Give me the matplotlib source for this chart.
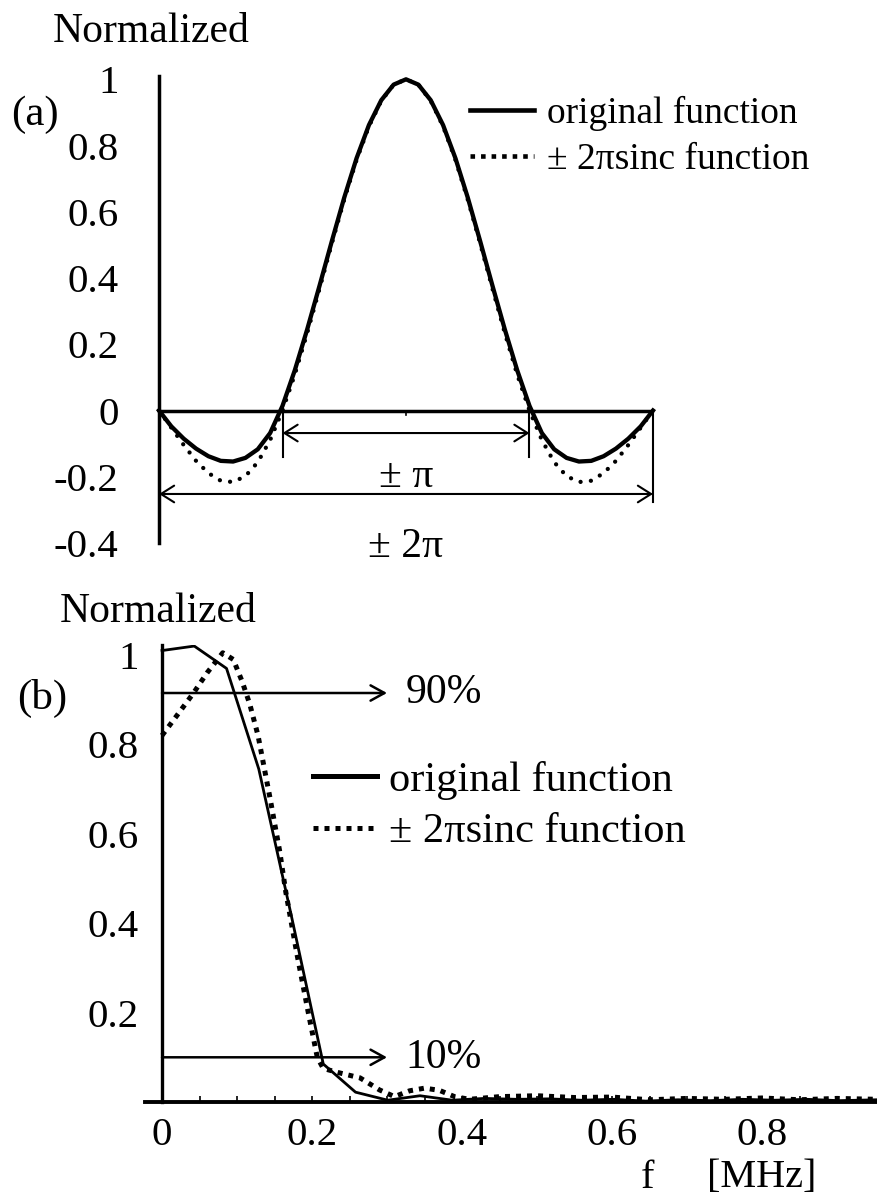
import matplotlib
matplotlib.use('Agg')
import matplotlib.pyplot as plt
from matplotlib.lines import Line2D

plt.rcParams['font.family'] = ['Liberation Serif', 'DejaVu Serif']

# ---- panel (a): phase axis in units of pi ----
xa = [-2.0, -1.9, -1.8, -1.7, -1.6, -1.5, -1.4, -1.3, -1.2, -1.1, -1.0,
      -0.9, -0.8, -0.7, -0.6, -0.5, -0.4, -0.3, -0.2, -0.1, 0.0,
      0.1, 0.2, 0.3, 0.4, 0.5, 0.6, 0.7, 0.8, 0.9, 1.0,
      1.1, 1.2, 1.3, 1.4, 1.5, 1.6, 1.7, 1.8, 1.9, 2.0]
orig_a = [0.0, -0.048, -0.085, -0.115, -0.138, -0.152, -0.154, -0.143, -0.117, -0.068, 0.014,
          0.122, 0.245, 0.377, 0.512, 0.643, 0.762, 0.862, 0.937, 0.984, 1.0,
          0.984, 0.937, 0.862, 0.762, 0.643, 0.512, 0.377, 0.245, 0.122, 0.014,
          -0.068, -0.117, -0.143, -0.154, -0.152, -0.138, -0.115, -0.085, -0.048, 0.0]
sinc_a = [0.0, -0.052, -0.104, -0.152, -0.189, -0.212, -0.216, -0.198, -0.156, -0.089, 0.0,
          0.109, 0.234, 0.368, 0.505, 0.637, 0.757, 0.858, 0.935, 0.984, 1.0,
          0.984, 0.935, 0.858, 0.757, 0.637, 0.505, 0.368, 0.234, 0.109, 0.0,
          -0.089, -0.156, -0.198, -0.216, -0.212, -0.189, -0.152, -0.104, -0.052, 0.0]
yticks_a = [-0.4, -0.2, 0.0, 0.2, 0.4, 0.6, 0.8, 1.0]
ylabels_a = ['-0.4', '-0.2', '0', '0.2', '0.4', '0.6', '0.8', '1']

# ---- panel (b): spectrum, f in MHz ----
f_orig = [0.0, 0.043, 0.086, 0.129, 0.172, 0.215, 0.258, 0.301, 0.344, 0.387, 0.43,
          0.473, 0.516, 0.559, 0.602, 0.645, 0.688, 0.731, 0.774, 0.817, 0.86, 0.903, 0.953]
orig_b = [1.01, 1.02, 0.97, 0.745, 0.42, 0.085, 0.022, 0.004, 0.014, 0.004, 0.008,
          0.006, 0.007, 0.004, 0.006, 0.002, 0.005, 0.003, 0.006, 0.004, 0.006, 0.003, 0.005]
f_sinc = [0.0, 0.02, 0.042, 0.06, 0.081, 0.095, 0.107, 0.117, 0.128, 0.144, 0.157, 0.165,
          0.18, 0.195, 0.207, 0.215, 0.237, 0.264, 0.29, 0.31, 0.33, 0.35, 0.37, 0.39,
          0.41, 0.45, 0.5, 0.55, 0.6, 0.65, 0.7, 0.75, 0.8, 0.85, 0.9, 0.953]
sinc_b = [0.82, 0.865, 0.915, 0.96, 1.005, 0.99, 0.94, 0.89, 0.82, 0.68, 0.56, 0.47,
          0.33, 0.2, 0.1, 0.075, 0.065, 0.054, 0.027, 0.012, 0.025, 0.031, 0.026, 0.012,
          0.006, 0.012, 0.014, 0.01, 0.011, 0.005, 0.008, 0.006, 0.009, 0.005, 0.008, 0.006]
xticks_b = [0.0, 0.2, 0.4, 0.6, 0.8]
xlabels_b = ['0', '0.2', '0.4', '0.6', '0.8']
yticks_b = [0.2, 0.4, 0.6, 0.8, 1.0]
ylabels_b = ['0.2', '0.4', '0.6', '0.8', '1']
level_90 = 0.915
level_10 = 0.1

W, H = 877, 1202
fig = plt.figure(figsize=(W / 100, H / 100), dpi=100)


def fx(x):
    return x / W


def fy(y):
    return 1 - y / H


# ---------------- (a) ----------------
ax1 = fig.add_axes([fx(159), fy(543), fx(653) - fx(159), fy(76) - fy(543)])
ax1.set_xlim(-2, 2)
ax1.set_ylim(-0.4, 1.01)
for s in ['top', 'right', 'bottom']:
    ax1.spines[s].set_visible(False)
ax1.spines['left'].set_linewidth(2.5)
ax1.set_xticks([])
ax1.set_yticks(yticks_a)
ax1.set_yticklabels(ylabels_a)
ax1.tick_params(axis='y', length=0, pad=29, labelsize=29.5)

ax1.plot([-2, 2], [0, 0], color='black', lw=2.5, solid_capstyle='butt', clip_on=False)
ax1.plot([0, 0], [0, -0.015], color='black', lw=1.2)
ax1.plot(xa, sinc_a, color='black', lw=3.1, linestyle=(0, (0.01, 2.4)),
         dash_capstyle='round', clip_on=False)
ax1.plot(xa, orig_a, color='black', lw=3.1, clip_on=False)

# pi markers and double arrows
for xm in (-1, 1):
    ax1.plot([xm, xm], [0, -0.14], color='black', lw=1.5)
ax1.plot([2, 2], [0, -0.276], color='black', lw=1.5, clip_on=False)
arrow = dict(arrowstyle='<->,head_length=0.95,head_width=0.6', lw=1.5,
             color='black', shrinkA=0, shrinkB=0, mutation_scale=10)
ax1.annotate('', xy=(1, -0.068), xytext=(-1, -0.068), arrowprops=arrow)
ax1.annotate('', xy=(2, -0.252), xytext=(-2, -0.252), arrowprops=arrow,
             annotation_clip=False)
ax1.text(0, -0.2, '± π', ha='center', va='center', fontsize=30)
ax1.text(0, -0.41, '± 2π', ha='center', va='center', fontsize=30)

h_orig_a = Line2D([], [], color='black', lw=3.3)
h_sinc_a = Line2D([], [], color='black', lw=3.3, linestyle=(0, (1, 1.3)),
                  dash_capstyle='butt')
ax1.legend([h_orig_a, h_sinc_a], ['original function', '± 2πsinc function'],
           loc='upper left', bbox_to_anchor=(fx(470), fy(96)),
           bbox_transform=fig.transFigure, frameon=False, fontsize=27,
           handlelength=1.7, handletextpad=0.35, labelspacing=0.3,
           borderpad=0, borderaxespad=0)

fig.text(fx(53), fy(32), 'Normalized', ha='left', va='center', fontsize=30)
fig.text(fx(11), fy(115), '(a)', ha='left', va='center', fontsize=31)

# ---------------- (b) ----------------
ax2 = fig.add_axes([fx(145), fy(1102), 1 - fx(145), fy(645) - fy(1102)])
ax2.set_xlim(-0.0227, 0.9533)
ax2.set_ylim(0, 1.0224)
ax2.spines['top'].set_visible(False)
ax2.spines['right'].set_visible(False)
ax2.spines['left'].set_position(('data', 0))
ax2.spines['left'].set_linewidth(2.4)
ax2.spines['bottom'].set_linewidth(2.8)
ax2.set_xticks(xticks_b)
ax2.set_xticklabels(xlabels_b)
ax2.set_xticks([0.05 * i for i in range(1, 19)], minor=True)
ax2.set_yticks(yticks_b)
ax2.set_yticklabels(ylabels_b)
ax2.tick_params(axis='x', which='both', direction='in', length=4, width=1.2,
                pad=11, labelsize=29.5)
ax2.tick_params(axis='y', length=0, pad=17, labelsize=29.5)

ax2.plot(f_sinc, sinc_b, color='black', lw=3.6, linestyle=(0, (1, 1.2)),
         dash_capstyle='butt')
ax2.plot(f_orig, orig_b, color='black', lw=2.0)

arrow_b = dict(arrowstyle='->,head_length=1.0,head_width=0.55', lw=1.8,
               color='black', shrinkA=0, shrinkB=0, mutation_scale=10)
ax2.annotate('', xy=(0.3, level_90), xytext=(0, level_90), arrowprops=arrow_b)
ax2.annotate('', xy=(0.3, level_10), xytext=(0, level_10), arrowprops=arrow_b)
ax2.text(0.325, level_90, '90%', ha='left', va='center', fontsize=30)
ax2.text(0.324, level_10, '10%', ha='left', va='center', fontsize=30)

h_orig_b = Line2D([], [], color='black', lw=3.6)
h_sinc_b = Line2D([], [], color='black', lw=3.6, linestyle=(0, (1, 1.2)),
                  dash_capstyle='butt')
ax2.legend([h_orig_b, h_sinc_b], ['original function', '± 2πsinc function'],
           loc='upper left', bbox_to_anchor=(fx(313), fy(761)),
           bbox_transform=fig.transFigure, frameon=False, fontsize=30.5,
           handlelength=1.5, handletextpad=0.3, labelspacing=0.3,
           borderpad=0, borderaxespad=0)

fig.text(fx(60), fy(612), 'Normalized', ha='left', va='center', fontsize=30)
fig.text(fx(17), fy(698), '(b)', ha='left', va='center', fontsize=31)
fig.text(fx(648), fy(1178), 'f', ha='center', va='center', fontsize=29)
fig.text(fx(762), fy(1178), '[MHz]', ha='center', va='center', fontsize=29)

fig.savefig('out.png', dpi=100)
